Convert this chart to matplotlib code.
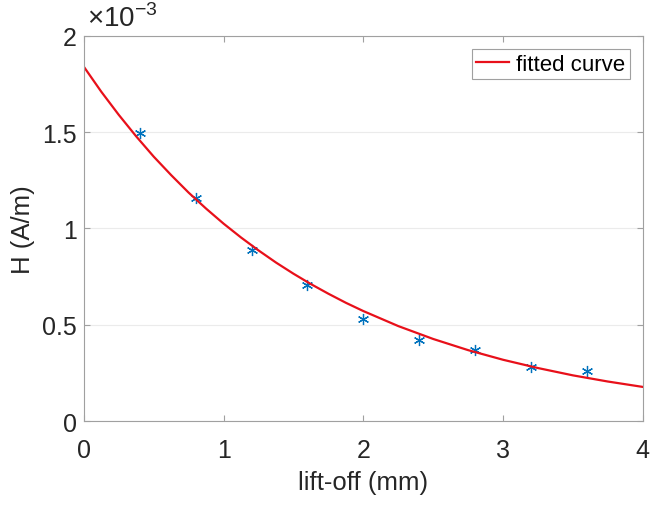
import numpy as np
import matplotlib.pyplot as plt
from matplotlib.ticker import FuncFormatter

plt.rcParams['font.family'] = ['Liberation Sans', 'DejaVu Sans']
plt.rcParams['mathtext.fontset'] = 'custom'
plt.rcParams['mathtext.rm'] = 'Liberation Sans'

# measured points (A/m)
lift_off = [0.4, 0.8, 1.2, 1.6, 2.0, 2.4, 2.8, 3.2, 3.6]
h_meas = [1.495e-3, 1.156e-3, 0.890e-3, 0.708e-3, 0.531e-3, 0.420e-3, 0.370e-3, 0.280e-3, 0.260e-3]

# fitted curve
fit_x = [0, 0.125, 0.25, 0.375, 0.5, 0.625, 0.75, 0.875, 1.0, 1.125, 1.25, 1.375, 1.5,
         1.625, 1.75, 1.875, 2.0, 2.25, 2.5, 2.75, 3.0, 3.25, 3.5, 3.75, 4.0]
fit_h = [1.840e-3, 1.710e-3, 1.590e-3, 1.478e-3, 1.373e-3, 1.277e-3, 1.186e-3, 1.103e-3,
         1.025e-3, 0.953e-3, 0.886e-3, 0.823e-3, 0.765e-3, 0.711e-3, 0.661e-3, 0.614e-3,
         0.571e-3, 0.493e-3, 0.426e-3, 0.368e-3, 0.318e-3, 0.275e-3, 0.237e-3, 0.205e-3,
         0.177e-3]

fig = plt.figure(figsize=(6.5, 5.06), dpi=100)
ax = fig.add_axes([0.129, 0.166, 0.860, 0.761])

ax.plot(lift_off, h_meas, linestyle='none', marker=(6, 2, 0), color='#0072BD',
        markersize=8, markeredgewidth=0.9)
ax.plot(fit_x, fit_h, '-', color='#E8101A', linewidth=1.6, label='fitted curve')

ax.set_xlim(0, 4)
ax.set_ylim(0, 2e-3)
ax.set_xticks([0, 1, 2, 3, 4])
ax.set_yticks([0, 0.5e-3, 1e-3, 1.5e-3, 2e-3])
ax.yaxis.set_major_formatter(FuncFormatter(lambda v, p: f'{v * 1e3:g}'))
ax.grid(axis='y', color='#EBEBEB', linewidth=0.8)
ax.set_axisbelow(True)

for s in ax.spines.values():
    s.set_color('#A0A0A0')
    s.set_linewidth(0.8)
ax.tick_params(direction='in', top=True, right=True, length=4, colors='#A0A0A0',
               labelcolor='#262626', labelsize=18)
ax.tick_params(axis='x', pad=12)
ax.tick_params(axis='y', pad=5)

ax.text(0.005, 1.01, r'$\times10^{-3}$', transform=ax.transAxes, fontsize=20,
        color='#262626', ha='left', va='bottom')
ax.set_xlabel('lift-off (mm)', fontsize=18.5, color='#262626', labelpad=6)
ax.set_ylabel('H (A/m)', fontsize=18.5, color='#262626', labelpad=5)

leg = ax.legend(loc='upper right', fontsize=16, fancybox=False, framealpha=1,
                edgecolor='#A0A0A0', handlelength=1.5, handletextpad=0.3,
                borderaxespad=0.6, borderpad=0.2)
leg.get_frame().set_linewidth(0.8)

fig.savefig('out.png', dpi=100)
